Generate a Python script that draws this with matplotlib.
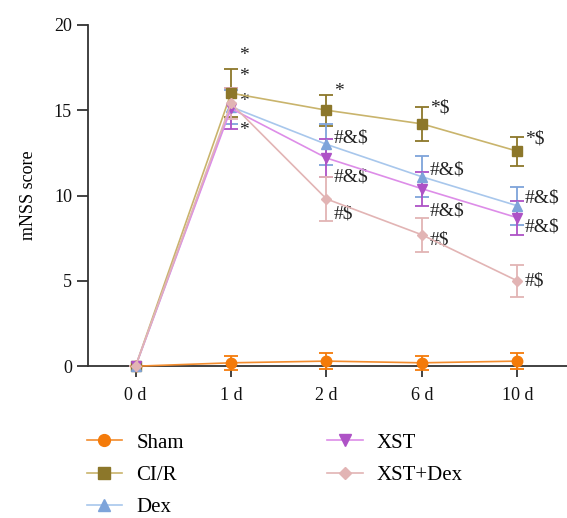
import matplotlib.pyplot as plt
from matplotlib.lines import Line2D

plt.rcParams['font.family'] = ['Liberation Serif', 'DejaVu Serif']

days = ["0 d", "1 d", "2 d", "6 d", "10 d"]

sham = [0, 0.2, 0.3, 0.2, 0.3]
sham_err = [0, 0.4, 0.45, 0.4, 0.45]
cir = [0, 16.0, 15.0, 14.2, 12.6]
cir_err = [0, 1.4, 0.9, 1.0, 0.85]
dex = [0, 15.2, 13.0, 11.1, 9.4]
dex_err = [0, 1.0, 1.2, 1.2, 1.1]
xst = [0, 15.1, 12.2, 10.4, 8.7]
xst_err = [0, 1.2, 1.1, 1.0, 1.0]
xst_dex = [0, 15.4, 9.8, 7.7, 5.0]
xst_dex_err = [0, 0.9, 1.3, 1.0, 0.95]

# significance marks: (day index, y, text)
marks = [
    (1, 18.2, "*"), (1, 17.0, "*"), (1, 15.5, "*"), (1, 13.8, "*"),
    (2, 16.1, "*"), (2, 13.4, "#&$"), (2, 11.1, "#&$"), (2, 8.9, "#$"),
    (3, 15.1, "*$"), (3, 11.5, "#&$"), (3, 9.1, "#&$"), (3, 7.4, "#$"),
    (4, 13.3, "*$"), (4, 9.85, "#&$"), (4, 8.15, "#&$"), (4, 5.0, "#$"),
]

groups = [
    ("Sham", sham, sham_err, "o", "#F47B0A", "#F28C2E", 7.5),
    ("CI/R", cir, cir_err, "s", "#8C772A", "#C9B46C", 7),
    ("Dex", dex, dex_err, "^", "#7EA4DA", "#A8C7EC", 7.5),
    ("XST", xst, xst_err, "v", "#AE52C6", "#DD8DE8", 7.5),
    ("XST+Dex", xst_dex, xst_dex_err, "D", "#E2B4B4", "#E2B4B4", 5.5),
]

fig = plt.figure(figsize=(5.67, 5.18), dpi=100)
ax = fig.add_axes([0.155, 0.293, 0.845, 0.659])

x = list(range(len(days)))
handles = []
for name, y, err, mk, mcol, lcol, ms in groups:
    ax.errorbar(x, y, yerr=err, color=lcol, ecolor=mcol, elinewidth=1.3,
                capsize=5, capthick=1.3, lw=1.2, zorder=3, clip_on=False,
                marker=mk, markersize=ms, markerfacecolor=mcol,
                markeredgecolor=mcol)
    handles.append(Line2D([], [], color=lcol, lw=1.2, marker=mk,
                          markersize=ms + 1, markerfacecolor=mcol,
                          markeredgecolor=mcol, label=name))

for i, yv, txt in marks:
    ax.text(i + 0.08, yv, txt, fontsize=14, color="#222222",
            va="center", ha="left")

ax.set_xlim(-0.5, 4.52)
ax.set_ylim(0, 20)
ax.set_xticks(x)
ax.set_xticklabels(days)
ax.set_yticks([0, 5, 10, 15, 20])
ax.set_ylabel("mNSS score", fontsize=13, labelpad=12)
for s in ["top", "right"]:
    ax.spines[s].set_visible(False)
for s in ["left", "bottom"]:
    ax.spines[s].set_color("#333333")
    ax.spines[s].set_linewidth(1.3)
ax.tick_params(axis="both", colors="#333333", labelcolor="#111111",
               labelsize=13, width=1.3, length=8)
ax.tick_params(axis="x", pad=7)

fig.legend(handles=handles, loc="upper left", bbox_to_anchor=(0.12, 0.2),
           ncol=2, frameon=False, fontsize=15, columnspacing=6.9,
           handlelength=1.7, handletextpad=0.67, labelspacing=0.6)

fig.savefig("out.png", dpi=100)
